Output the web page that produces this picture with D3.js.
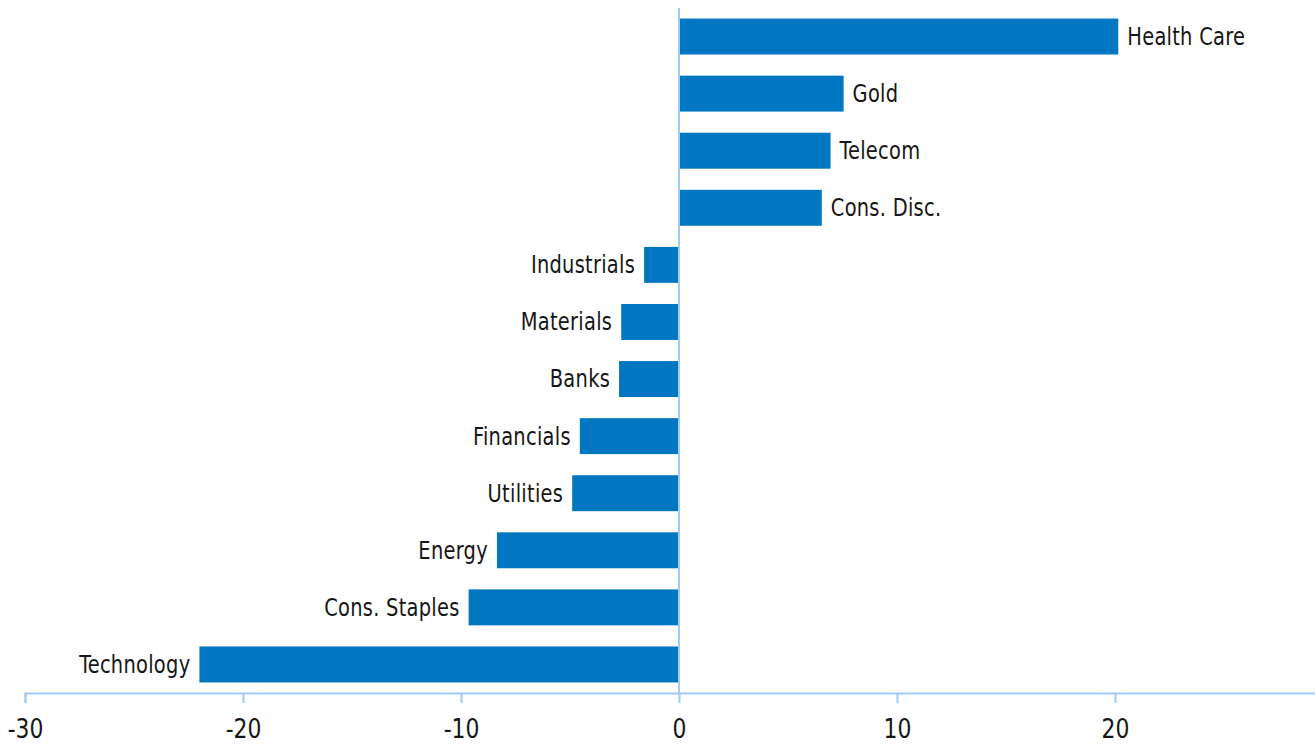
<!DOCTYPE html>
<meta charset="utf-8">
<style>
  body { margin: 0; background: #fff; }
  text { font-family: "Liberation Sans Narrow", "DejaVu Sans Condensed", "Roboto", sans-serif; fill: #161616; }
</style>

<!-- Load d3.js -->
<script src="https://d3js.org/d3.v7.min.js"></script>

<div id="my_dataviz"></div>
<script>

  // data (top to bottom)
  var categories = ["Health Care", "Gold", "Telecom", "Cons. Disc.", "Industrials", "Materials",
                    "Banks", "Financials", "Utilities", "Energy", "Cons. Staples", "Technology"];
  var values = [20.15, 7.55, 6.95, 6.55, -1.6, -2.65, -2.75, -4.55, -4.9, -8.35, -9.65, -22.0];
  var tickValues = [-30, -20, -10, 0, 10, 20];

  var width = 1315, height = 748;
  var axisY = 693, topY = 8;
  var axisColor = "#9fcbfa", barColor = "#0077c0";
  var squeeze = 0.9;   // the original font is a condensed one

  var svg = d3.select("#my_dataviz")
    .append("svg")
      .attr("width", width)
      .attr("height", height);

  var data = categories.map(function(c, i) { return {name: c, value: values[i]}; });

  // X scale
  var x = d3.scaleLinear()
    .domain([-30, 30])
    .range([25, 25 + 60 * 21.8]);

  // Y scale
  var y = d3.scaleBand()
    .domain(categories)
    .range([topY, axisY])
    .paddingInner(0.37)
    .paddingOuter(0.185);

  // Bars
  svg.selectAll("rect.bar")
    .data(data)
    .enter()
    .append("rect")
      .attr("class", "bar")
      .attr("x", function(d) { return x(Math.min(0, d.value)); })
      .attr("y", function(d) { return y(d.name); })
      .attr("width", function(d) { return Math.abs(x(d.value) - x(0)); })
      .attr("height", y.bandwidth())
      .attr("fill", barColor);

  // Labels next to the bars
  svg.selectAll("text.lab")
    .data(data)
    .enter()
    .append("text")
      .attr("class", "lab")
      .attr("transform", function(d) {
        var tx = d.value >= 0 ? x(d.value) + 9 : x(d.value) - 9;
        var ty = y(d.name) + y.bandwidth() / 2;
        return "translate(" + tx + "," + ty + ") scale(" + squeeze + ",1)";
      })
      .attr("dy", "0.35em")
      .attr("text-anchor", function(d) { return d.value >= 0 ? "start" : "end"; })
      .style("font-size", "24px")
      .style("letter-spacing", "0.3px")
      .text(function(d) { return d.name; });

  // zero line
  svg.append("line")
    .attr("x1", x(0)).attr("x2", x(0))
    .attr("y1", topY).attr("y2", axisY)
    .attr("stroke", axisColor)
    .attr("stroke-width", 2);

  // X axis
  var xAxis = svg.append("g")
    .attr("transform", "translate(0," + axisY + ")")
    .call(d3.axisBottom(x).tickValues(tickValues).tickSize(10).tickFormat(d3.format("d")));
  xAxis.selectAll("path, line")
    .attr("stroke", axisColor)
    .attr("stroke-width", 2);
  xAxis.selectAll("text")
    .attr("y", 0)
    .attr("dy", "0.35em")
    .attr("transform", "translate(0,36) scale(" + squeeze + ",1)")
    .style("font-size", "27px")
    .style("fill", "#161616")
    .style("font-family", "'Liberation Sans Narrow', 'DejaVu Sans Condensed', sans-serif")
    .text(function(d) { return d < 0 ? "-" + Math.abs(d) : d; });

</script>
